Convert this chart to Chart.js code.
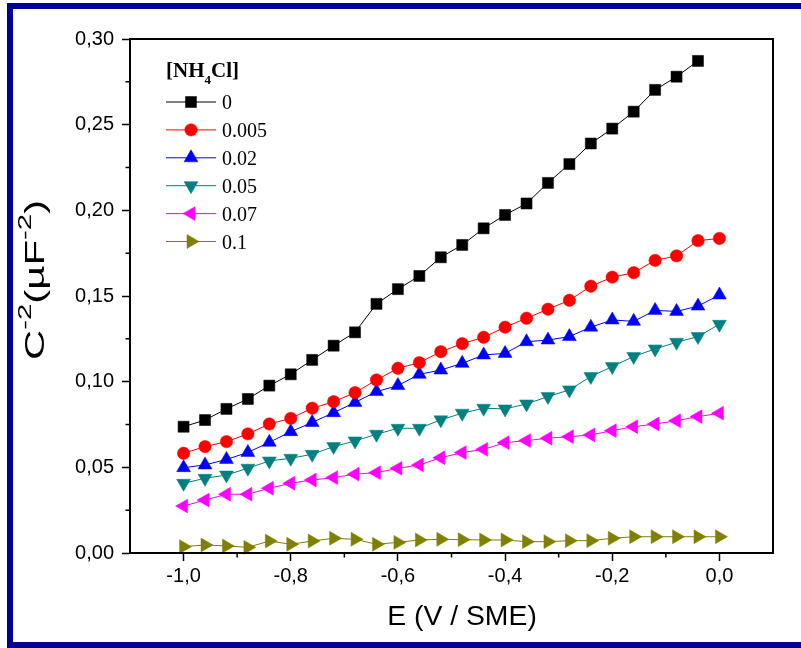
<!DOCTYPE html>
<html><head><meta charset="utf-8">
<script src="https://cdn.jsdelivr.net/npm/chart.js@4.4.1/dist/chart.umd.min.js"></script>
<style>html,body{margin:0;padding:0;background:#fff;}#wrap{width:801px;height:648px;position:relative;}</style>
</head><body><div id="wrap"><canvas id="c" width="801" height="648"></canvas></div>
<script>
// ---- data ----
const potentials = [-1.00,-0.96,-0.92,-0.88,-0.84,-0.80,-0.76,-0.72,-0.68,-0.64,-0.60,-0.56,-0.52,-0.48,-0.44,-0.40,-0.36,-0.32,-0.28,-0.24,-0.20,-0.16,-0.12,-0.08,-0.04,0.00];
const seriesLabels = ['0','0.005','0.02','0.05','0.07','0.1'];
const c0     = [0.0737,0.0776,0.0841,0.0899,0.0977,0.1043,0.1127,0.1210,0.1288,0.1454,0.1540,0.1617,0.1726,0.1798,0.1895,0.1973,0.2040,0.2160,0.2270,0.2390,0.2477,0.2576,0.2703,0.2780,0.2872];
const c0005  = [0.0582,0.0621,0.0650,0.0695,0.0753,0.0786,0.0845,0.0883,0.0936,0.1010,0.1078,0.1111,0.1175,0.1222,0.1259,0.1318,0.1370,0.1423,0.1475,0.1557,0.1610,0.1636,0.1708,0.1734,0.1823,0.1836];
const c002   = [0.0498,0.0514,0.0546,0.0587,0.0646,0.0708,0.0762,0.0819,0.0879,0.0942,0.0977,0.1043,0.1068,0.1107,0.1156,0.1165,0.1233,0.1243,0.1263,0.1318,0.1360,0.1352,0.1416,0.1410,0.1441,0.1506];
const c005   = [0.0407,0.0436,0.0455,0.0495,0.0537,0.0553,0.0576,0.0621,0.0654,0.0693,0.0728,0.0728,0.0777,0.0816,0.0845,0.0841,0.0870,0.0913,0.0952,0.1030,0.1088,0.1147,0.1191,0.1230,0.1263,0.1335];
const c007   = [0.0274,0.0309,0.0343,0.0343,0.0378,0.0407,0.0426,0.0440,0.0460,0.0469,0.0494,0.0514,0.0556,0.0586,0.0605,0.0644,0.0656,0.0670,0.0679,0.0689,0.0714,0.0737,0.0753,0.0772,0.0796,0.0816];
const c01    = [0.0037,0.0047,0.0041,0.0033,0.0070,0.0051,0.0070,0.0086,0.0080,0.0051,0.0062,0.0076,0.0080,0.0078,0.0076,0.0076,0.0066,0.0066,0.0072,0.0072,0.0086,0.0095,0.0095,0.0095,0.0095,0.0095];
const xTicks = [-1.0,-0.8,-0.6,-0.4,-0.2,0.0];
const xMinorTicks = [-0.9,-0.7,-0.5,-0.3,-0.1];
const yTicks = [0.00,0.05,0.10,0.15,0.20,0.25,0.30];
const yMinorTicks = [0.025,0.075,0.125,0.175,0.225,0.275];

// ---- styles ----
const colors = ['#000000','#ff0000','#0000ff','#008080','#ff00ff','#808000'];
const styles = [
  {pointStyle:'rect', rotation:0, radius:7.8},
  {pointStyle:'circle', rotation:0, radius:6.2},
  {pointStyle:'triangle', rotation:0, radius:8},
  {pointStyle:'triangle', rotation:180, radius:8},
  {pointStyle:'triangle', rotation:270, radius:8},
  {pointStyle:'triangle', rotation:90, radius:8}
];
const allValues = [c0,c0005,c002,c005,c007,c01];

const datasets = allValues.map((vals,i)=>({
  label: seriesLabels[i],
  data: vals.map((v,j)=>({x:potentials[j], y:v})),
  showLine:true,
  borderColor: colors[i],
  backgroundColor: colors[i],
  borderWidth:1,
  pointStyle: styles[i].pointStyle,
  rotation: styles[i].rotation,
  pointRadius: styles[i].radius,
  pointHoverRadius: styles[i].radius,
  pointBorderWidth: 0.5,
  pointBorderColor: colors[i],
  pointBackgroundColor: colors[i],
  clip: false
}));

const fmt = (v,d)=> (Math.abs(v)<1e-9?0:v).toFixed(d).replace('.',',');

function drawMarker(ctx, st, color, x, y){
  ctx.save();
  ctx.fillStyle = color; ctx.strokeStyle = color; ctx.lineWidth = 0.5;
  if (Chart.helpers && Chart.helpers.drawPoint){
    Chart.helpers.drawPoint(ctx,{pointStyle:st.pointStyle, rotation:st.rotation, radius:st.radius, borderWidth:0.5}, x, y);
  }
  ctx.restore();
}

function drawScaledText(ctx, parts, x, y, sx, align){
  let total = 0;
  parts.forEach(p=>{ctx.font=p.font; p.w = ctx.measureText(p.t).width; total += p.w;});
  total *= sx;
  let cx = align==='center' ? x - total/2 : x;
  parts.forEach(p=>{
    ctx.save();
    ctx.font = p.font;
    ctx.translate(cx, y + (p.dy||0));
    ctx.scale(sx,1);
    ctx.fillText(p.t,0,0);
    ctx.restore();
    cx += p.w*sx;
  });
}

const decor = {
  id:'decor',
  beforeDraw(chart){
    const ctx = chart.ctx;
    ctx.save();
    ctx.fillStyle = '#fff';
    ctx.fillRect(0,0,chart.width,chart.height);
    ctx.restore();
  },
  afterDraw(chart){
    const ctx = chart.ctx;
    const xs = chart.scales.x, ys = chart.scales.y;
    const a = chart.chartArea;
    ctx.save();
    ctx.strokeStyle = '#000'; ctx.lineWidth = 2;
    ctx.strokeRect(a.left, a.top, a.right-a.left, a.bottom-a.top);
    ctx.lineWidth = 1.5;
    ctx.beginPath();
    xMinorTicks.forEach(v=>{const px = xs.getPixelForValue(v); ctx.moveTo(px, a.bottom); ctx.lineTo(px, a.bottom+4.5);});
    yMinorTicks.forEach(v=>{const py = ys.getPixelForValue(v); ctx.moveTo(a.left, py); ctx.lineTo(a.left-4.5, py);});
    ctx.stroke();
    ctx.strokeStyle = '#000096'; ctx.lineWidth = 6;
    ctx.strokeRect(10, 6, 806, 639);
    ctx.fillStyle = '#000';
    ctx.textBaseline = 'alphabetic';
    drawScaledText(ctx,[
      {t:'E (V / SME)', font:'27px "Liberation Sans", Arial, sans-serif'}
    ], 462, 625, 1.05, 'center');
    ctx.save();
    ctx.translate(44, 280);
    ctx.rotate(-Math.PI/2);
    drawScaledText(ctx,[
      {t:'C', font:'27px "Liberation Sans", Arial, sans-serif'},
      {t:'-2', font:'19px "Liberation Sans", Arial, sans-serif', dy:-13},
      {t:'(µF', font:'27px "Liberation Sans", Arial, sans-serif'},
      {t:'-2', font:'19px "Liberation Sans", Arial, sans-serif', dy:-13},
      {t:')', font:'27px "Liberation Sans", Arial, sans-serif'}
    ], 0, 0, 1.55, 'center');
    ctx.restore();
    ctx.fillStyle = '#000';
    const lx = 166;
    let tx = lx;
    ctx.font = 'bold 21px "Liberation Serif", "Times New Roman", serif';
    ctx.fillText('[NH', tx, 77); tx += ctx.measureText('[NH').width;
    ctx.font = 'bold 13px "Liberation Serif", "Times New Roman", serif';
    ctx.fillText('4', tx, 84); tx += ctx.measureText('4').width;
    ctx.font = 'bold 21px "Liberation Serif", "Times New Roman", serif';
    ctx.fillText('Cl]', tx, 77);
    chart.data.datasets.forEach((ds,i)=>{
      const y = 102 + 27.9*i;
      ctx.strokeStyle = ds.borderColor; ctx.lineWidth = 1;
      ctx.beginPath(); ctx.moveTo(lx, y); ctx.lineTo(lx+50, y); ctx.stroke();
      drawMarker(ctx, styles[i], ds.borderColor, lx+25, y);
      ctx.fillStyle = '#000';
      ctx.font = '20px "Liberation Serif", "Times New Roman", serif';
      ctx.fillText(ds.label, lx+56, y+7);
    });
    ctx.restore();
  }
};

new Chart(document.getElementById('c'), {
  type:'scatter',
  data:{datasets},
  options:{
    responsive:false,
    animation:false,
    devicePixelRatio:1,
    layout:{padding:{left:0, top:39, right:28, bottom:0}},
    plugins:{legend:{display:false}, tooltip:{enabled:false}, title:{display:false}},
    scales:{
      x:{
        type:'linear', min:-1.1, max:0.1,
        afterBuildTicks(s){ s.ticks = xTicks.map(v=>({value:v})); },
        afterFit(s){ s.height = 95; },
        ticks:{ callback:(v)=>fmt(v,1), color:'#000', font:{family:'"Liberation Sans", Arial, sans-serif', size:20}, padding:3, maxRotation:0, autoSkip:false },
        grid:{ display:true, drawOnChartArea:false, drawTicks:true, tickLength:8, tickColor:'#000', tickWidth:1.5 },
        border:{ display:true, color:'#000', width:2 }
      },
      y:{
        type:'linear', min:0, max:0.3,
        afterBuildTicks(s){ s.ticks = yTicks.map(v=>({value:v})); },
        afterFit(s){ s.width = 130; },
        ticks:{ callback:(v)=>fmt(v,2), color:'#000', font:{family:'"Liberation Sans", Arial, sans-serif', size:20}, padding:8, autoSkip:false },
        grid:{ display:true, drawOnChartArea:false, drawTicks:true, tickLength:8, tickColor:'#000', tickWidth:1.5 },
        border:{ display:true, color:'#000', width:2 }
      }
    }
  },
  plugins:[decor]
});
</script></body></html>
